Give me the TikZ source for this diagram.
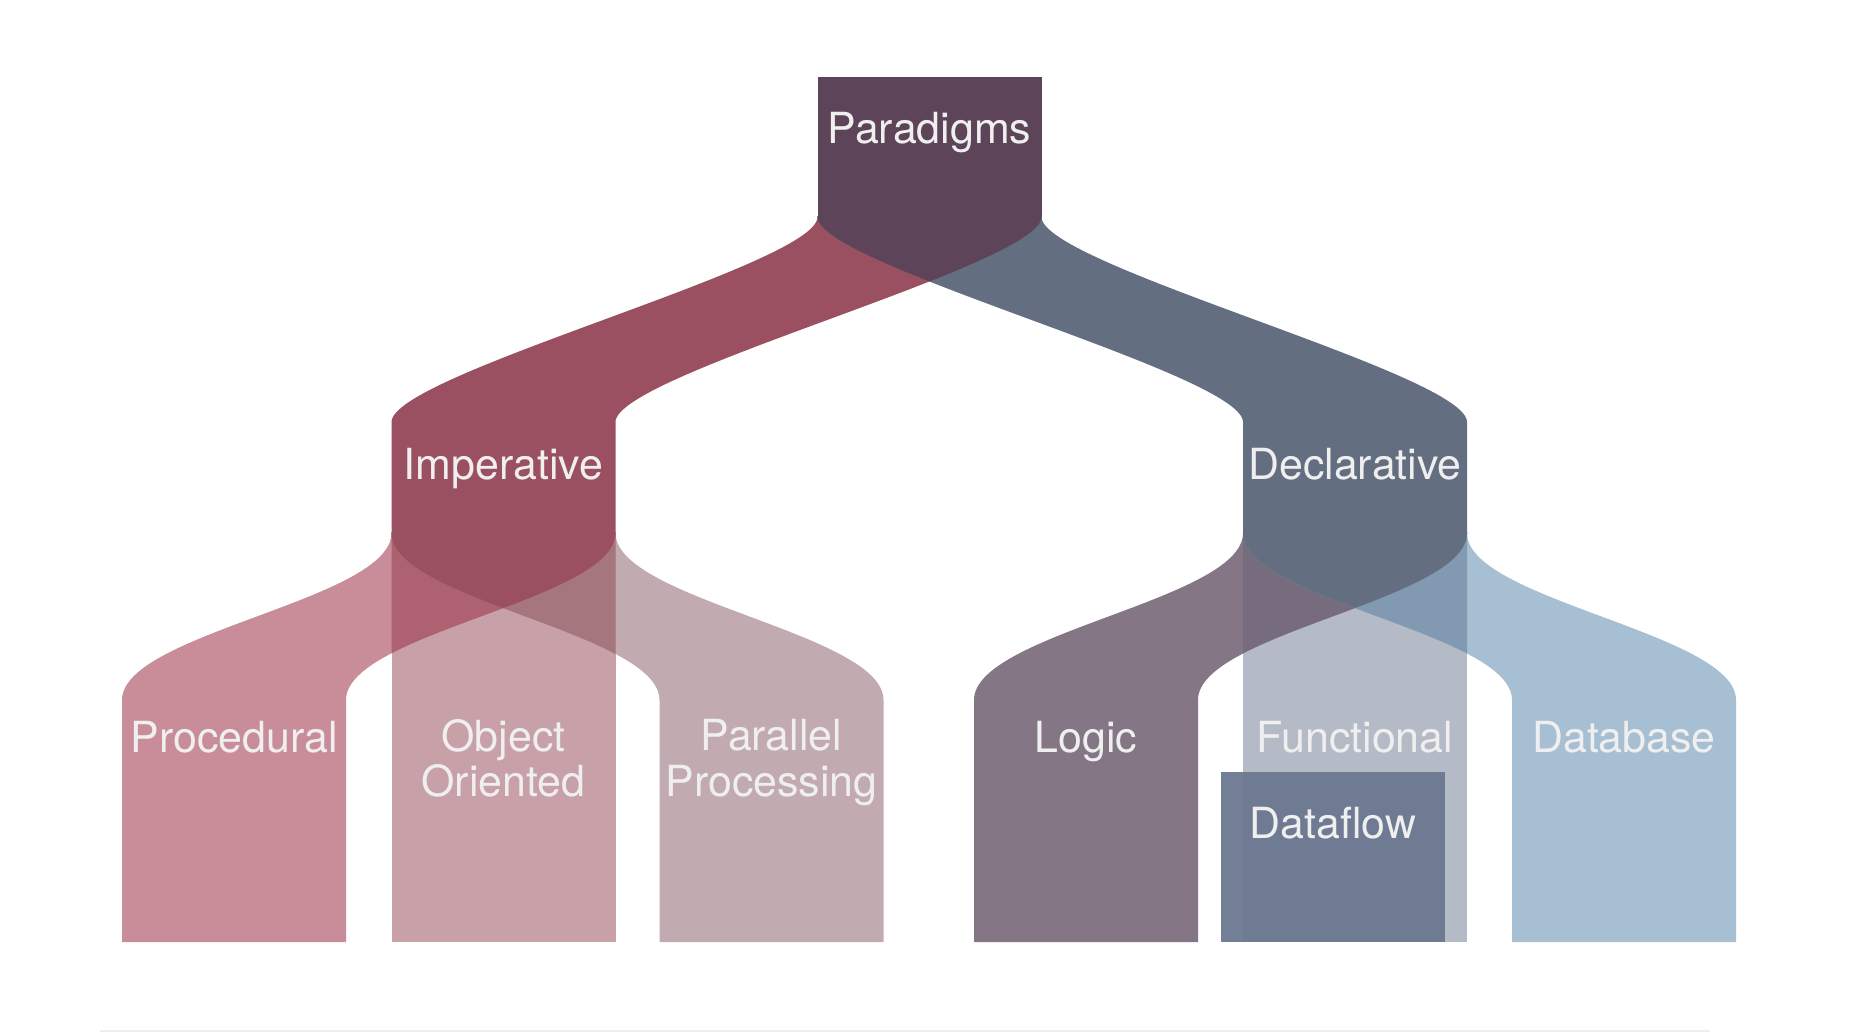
\documentclass[tikz,border=0pt]{standalone}
\usepackage{fontspec}
\setmainfont{TeX Gyre Heros}
\definecolor{paraC}{HTML}{5D4458}
\definecolor{impC}{HTML}{9A5060}
\definecolor{decC}{HTML}{636E81}
\definecolor{procC}{HTML}{C98D9A}
\definecolor{ooC}{HTML}{C8A0A8}
\definecolor{parC}{HTML}{C2AAB1}
\definecolor{procOO}{HTML}{AD6171}
\definecolor{parOO}{HTML}{A6767E}
\definecolor{logicC}{HTML}{857686}
\definecolor{funcC}{HTML}{B4BAC6}
\definecolor{logFunc}{HTML}{776C7E}
\definecolor{dbC}{HTML}{A7BFD3}
\definecolor{dbFunc}{HTML}{8199B1}
\definecolor{dataC}{HTML}{6F7A93}
\definecolor{dataGap}{HTML}{737E97}
\definecolor{txtC}{HTML}{EFEFEF}
\definecolor{ruleC}{HTML}{EEEEEE}
% band from parent centre #1 (curve starts at y #2) to child centre #3 (curve ends at y #4), control offset #5, band ends at y #6
\newcommand\BranchPath[6]{(#1-112,#2-1) -- (#1-112,#2) .. controls (#1-112,#2+#5) and (#3-112,#4-#5) .. (#3-112,#4) -- (#3-112,#6) -- (#3+112,#6) -- (#3+112,#4) .. controls (#3+112,#4-#5) and (#1+112,#2+#5) .. (#1+112,#2) -- (#1+112,#2-1) -- cycle}
\newcommand\ColPath[3]{(#1-112,#2) rectangle (#1+112,#3)}
\begin{document}
\begin{tikzpicture}[x=0.01cm,y=-0.01cm,
  lbl/.style={text=txtC, font=\fontsize{12.2pt}{12.8pt}\selectfont, inner sep=0pt}]
\useasboundingbox[fill=white] (0,0) rectangle (1862,1032);
% ---------- top level ----------
\fill[impC] \BranchPath{929.5}{217}{503.5}{422}{48}{534};
\fill[decC] \BranchPath{929.5}{217}{1355}{422}{48}{534};
\begin{scope}
  \clip \BranchPath{929.5}{217}{503.5}{422}{48}{534};
  \fill[paraC] \BranchPath{929.5}{217}{1355}{422}{48}{534};
\end{scope}
\fill[paraC] (817.5,77) rectangle (1041.5,218);
% ---------- imperative group ----------
\fill[procC] \BranchPath{503.5}{533}{234}{700}{67}{942};
\fill[parC] \BranchPath{503.5}{533}{771.5}{700}{67}{942};
\fill[ooC] \ColPath{503.5}{533}{942};
\begin{scope}
  \clip \ColPath{503.5}{533}{942};
  \fill[procOO] \BranchPath{503.5}{533}{234}{700}{67}{942};
\end{scope}
\begin{scope}
  \clip \ColPath{503.5}{533}{942};
  \fill[parOO] \BranchPath{503.5}{533}{771.5}{700}{67}{942};
\end{scope}
\begin{scope}
  \clip \BranchPath{503.5}{533}{234}{700}{67}{942};
  \fill[impC] \BranchPath{503.5}{533}{771.5}{700}{67}{942};
\end{scope}
% ---------- declarative group ----------
\fill[logicC] \BranchPath{1355}{533}{1086}{700}{67}{942};
\fill[dbC] \BranchPath{1355}{533}{1624}{700}{67}{942};
\fill[funcC] \ColPath{1355}{533}{942};
\begin{scope}
  \clip \ColPath{1355}{533}{942};
  \fill[logFunc] \BranchPath{1355}{533}{1086}{700}{67}{942};
\end{scope}
\begin{scope}
  \clip \ColPath{1355}{533}{942};
  \fill[dbFunc] \BranchPath{1355}{533}{1624}{700}{67}{942};
\end{scope}
\begin{scope}
  \clip \BranchPath{1355}{533}{1086}{700}{67}{942};
  \fill[decC] \BranchPath{1355}{533}{1624}{700}{67}{942};
\end{scope}
% ---------- dataflow box ----------
\fill[dataGap] (1221,772) rectangle (1445,942);
\fill[dataC] (1243,772) rectangle (1445,942);
% ---------- bottom rule ----------
\draw[ruleC, line width=0.5pt] (100,1031) -- (1710,1031);
% ---------- labels ----------
\node[lbl, anchor=base] (paradigms) at (929.5,143) {Paradigms};
\node[lbl, anchor=base] (imperative) at (503.5,479) {Imperative};
\node[lbl, anchor=base] (declarative) at (1355,479) {Declarative};
\node[lbl, anchor=base] (procedural) at (234,752) {Procedural};
\node[lbl, anchor=north, align=center] (objoriented) at (503.5,719) {Object\\Oriented};
\node[lbl, anchor=north, align=center] (parallel) at (771.5,719) {Parallel\\Processing};
\node[lbl, anchor=base] (logic) at (1086,752) {Logic};
\node[lbl, anchor=base] (functional) at (1355,752) {Functional};
\node[lbl, anchor=base] (database) at (1624,752) {Database};
\node[lbl, anchor=base] (dataflow) at (1333,838) {Dataflow};
\end{tikzpicture}
\end{document}
